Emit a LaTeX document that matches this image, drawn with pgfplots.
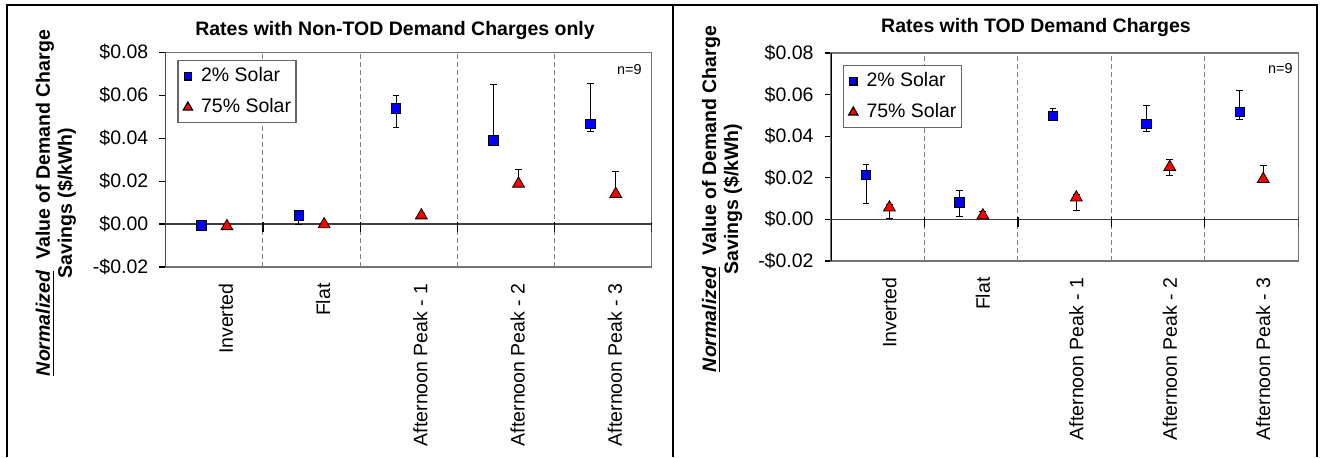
\documentclass[border=0pt]{standalone}
\usepackage{fontspec}
\setmainfont{Liberation Sans}
\usepackage{pgfplots}
\pgfplotsset{compat=1.18}
\usepackage{pgfplotstable}

\definecolor{xlblue}{RGB}{0,0,255}
\definecolor{xlred}{RGB}{255,0,0}
\newcommand{\chartfont}{\fontsize{9.75}{11.7}\selectfont}

% x y error+ error-
\pgfplotstableread{
x y ep em
-0.13 -0.0006 0 0
0.87 0.0040 0 0.0040
1.87 0.0538 0.0063 0.0088
2.87 0.0389 0.0261 0
3.87 0.0467 0.0187 0.0036
}\leftblue
\pgfplotstableread{
x y ep em
0.13 -0.0010 0 0
1.13 -0.0001 0 0
2.13 0.0040 0.0008 0
3.13 0.0188 0.0068 0
4.13 0.0140 0.0106 0
}\leftred
\pgfplotstableread{
x y ep em
-0.125 0.0213 0.0049 0.0135
0.875 0.0081 0.0059 0.0068
1.875 0.0497 0.0035 0
2.875 0.0460 0.0089 0.0039
3.875 0.0516 0.0105 0.0035
}\rightblue
\pgfplotstableread{
x y ep em
0.125 0.0057 0.0016 0.0051
1.125 0.0019 0.0019 0
2.125 0.0105 0.0015 0.0061
3.125 0.0252 0.0034 0.0039
4.125 0.0194 0.0063 0
}\rightred

\tikzset{
  zeroline/.style={draw=black!75, line width=0.6pt},
  bticks/.style={draw=black, line width=0.6pt},
}

\pgfplotsset{
  chartstyle/.style={
    scale only axis, anchor=south west,
    xmin=-0.5, xmax=4.5, ymin=-0.02, ymax=0.08,
    scaled y ticks=false,
    axis line style={draw=black!55, line width=0.6pt},
    xtick={0,1,2,3,4},
    xticklabels={Inverted,Flat,Afternoon Peak - 1,Afternoon Peak - 2,Afternoon Peak - 3},
    x tick style={draw=none},
    xticklabel style={xshift=5.85pt, yshift=-1.5pt, rotate=90, anchor=east, font=\chartfont},
    ytick={-0.02,0,0.02,0.04,0.06,0.08},
    yticklabels={-\$0.02,\$0.00,\$0.02,\$0.04,\$0.06,\$0.08},
    ytick pos=left, tick align=outside, major tick length=3.2pt,
    y tick style={draw=black, line width=0.6pt},
    yticklabel style={font=\chartfont, xshift=-2pt},
    extra x ticks={0.5,1.5,2.5,3.5},
    extra x tick labels={},
    extra x tick style={grid=major, major grid style={draw=black!50, dash pattern=on 2.3pt off 1.7pt, line width=0.5pt}, tick style={draw=none}},
    legend style={at={(0,1)}, anchor=north west, draw=black!60, line width=0.6pt,
      font=\chartfont, inner xsep=1.5pt, inner ysep=2.5pt, row sep=5pt,
      cells={anchor=west}, nodes={inner sep=1pt}},
    legend image code/.code={\path (0pt,0pt) (8.5pt,0pt); \draw[##1, every mark/.append style={scale=0.78}] plot coordinates {(3.2pt,0pt)};},
    errbar/.style={forget plot, draw=none, mark=none,
      error bars/.cd, y dir=both, y explicit,
      error bar style={draw=black, solid, line width=0.5pt},
      error mark options={draw=black, mark size=1.7pt, line width=0.5pt, rotate=90}},
    bluemk/.style={only marks, mark=square*, mark size=2.4pt, mark options={draw=none, fill=xlblue}},
    redmk/.style={only marks, mark=triangle*, mark size=3.4pt, mark options={draw=none, fill=xlred}},
  }
}

\begin{document}
\begin{tikzpicture}
\useasboundingbox (0,0) rectangle (660.5pt,228.5pt);
\draw[line width=1.1pt] (3.35pt,0) -- (3.35pt,226.15pt) -- (658.5pt,226.15pt) -- (658.5pt,0);
\draw[line width=1.1pt] (336.35pt,0) -- (336.35pt,226.15pt);

% ---------- left panel ----------
\begin{axis}[chartstyle, at={(82.85pt,95pt)}, width=243pt, height=107.35pt,
  legend style={xshift=5.8pt, yshift=-3.85pt}]
\draw[zeroline] (axis cs:-0.5,0) -- (axis cs:4.5,0);
\draw[bticks] ([yshift=1pt]axis cs:0.5,0) -- ([yshift=-4pt]axis cs:0.5,0);
\draw[bticks] ([yshift=1pt]axis cs:1.5,0) -- ([yshift=-4pt]axis cs:1.5,0);
\draw[bticks] ([yshift=1pt]axis cs:2.5,0) -- ([yshift=-4pt]axis cs:2.5,0);
\draw[bticks] ([yshift=1pt]axis cs:3.5,0) -- ([yshift=-4pt]axis cs:3.5,0);
\draw[bticks] ([yshift=1pt]axis cs:4.5,0) -- ([yshift=-4pt]axis cs:4.5,0);
\addplot[errbar] table[x=x, y=y, y error plus=ep, y error minus=em] {\leftblue};
\addplot[errbar] table[x=x, y=y, y error plus=ep, y error minus=em] {\leftred};
\addplot[bluemk] table[x=x, y=y] {\leftblue};
\addlegendentry{2\% Solar}
\addplot[redmk] table[x=x, y=y] {\leftred};
\addlegendentry{75\% Solar}
\draw[black, line width=0.6pt] (rel axis cs:0,0) -- (rel axis cs:0,1);
\node[font=\fontsize{7.2}{8.6}\selectfont, anchor=base east, inner sep=0pt] at ([xshift=-4.85pt, yshift=-10.85pt]rel axis cs:1,1) {n=9};
\end{axis}

% ---------- right panel ----------
\begin{axis}[chartstyle, at={(415.5pt,98pt)}, width=233.65pt, height=104pt,
  legend style={xshift=5.85pt, yshift=-6pt}]
\draw[zeroline] (axis cs:-0.5,0) -- (axis cs:4.5,0);
\draw[bticks] ([yshift=1pt]axis cs:0.5,0) -- ([yshift=-4pt]axis cs:0.5,0);
\draw[bticks] ([yshift=1pt]axis cs:1.5,0) -- ([yshift=-4pt]axis cs:1.5,0);
\draw[bticks] ([yshift=1pt]axis cs:2.5,0) -- ([yshift=-4pt]axis cs:2.5,0);
\draw[bticks] ([yshift=1pt]axis cs:3.5,0) -- ([yshift=-4pt]axis cs:3.5,0);
\draw[bticks] ([yshift=1pt]axis cs:4.5,0) -- ([yshift=-4pt]axis cs:4.5,0);
\addplot[errbar] table[x=x, y=y, y error plus=ep, y error minus=em] {\rightblue};
\addplot[errbar] table[x=x, y=y, y error plus=ep, y error minus=em] {\rightred};
\addplot[bluemk] table[x=x, y=y] {\rightblue};
\addlegendentry{2\% Solar}
\addplot[redmk] table[x=x, y=y] {\rightred};
\addlegendentry{75\% Solar}
\draw[black, line width=0.6pt] (rel axis cs:0,0) -- (rel axis cs:0,1);
\node[font=\fontsize{7.2}{8.6}\selectfont, anchor=base east, inner sep=0pt] at ([xshift=-2.65pt, yshift=-10.5pt]rel axis cs:1,1) {n=9};
\end{axis}

% titles and y labels
\node[font=\chartfont\bfseries, anchor=base, inner sep=0pt] at (197.5pt,211pt) {Rates with Non-TOD Demand Charges only};
\node[font=\chartfont\bfseries, anchor=base, inner sep=0pt] at (518pt,212.25pt) {Rates with TOD Demand Charges};
\node[font=\fontsize{9.75}{11}\selectfont\bfseries, rotate=90, align=center, inner sep=0pt] at (28pt,127pt)
  {\underline{\textit{Normalized}}\ \ Value of Demand Charge\\Savings (\$/kWh)};
\node[font=\fontsize{9.75}{11}\selectfont\bfseries, rotate=90, align=center, inner sep=0pt] at (361pt,129pt)
  {\underline{\textit{Normalized}}\ \ Value of Demand Charge\\Savings (\$/kWh)};
\end{tikzpicture}
\end{document}
